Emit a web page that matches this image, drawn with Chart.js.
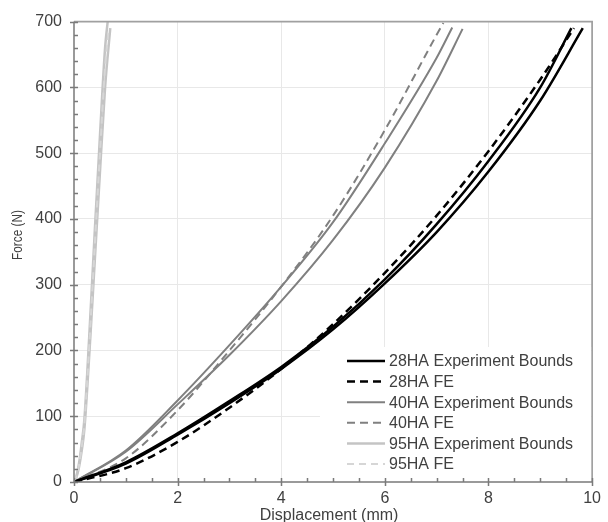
<!DOCTYPE html>
<html>
<head>
<meta charset="utf-8">
<script src="https://cdn.jsdelivr.net/npm/chart.js@4.4.1/dist/chart.umd.min.js"></script>
<style>
  html, body { margin: 0; padding: 0; background: #fff; }
</style>
</head>
<body>
<canvas id="chart" width="608" height="522"></canvas>
<script>
// axis ranges / tick steps
const xMax = 10, yMax = 700;
const xStep = 2, yStep = 100;

// 28HA - two experiment bounds + FE
const disp28A = [0, 1, 2, 3, 4, 5, 6, 7, 8, 9, 9.6];
const force28A = [0, 30, 74, 123, 175, 236, 308, 392, 488, 600, 690];
const disp28B = [0, 1, 2, 3, 4, 5, 6, 7, 8, 9, 9.82];
const force28B = [0, 28, 72, 120, 172, 232, 302, 380, 472, 580, 690];
const disp28FE = [0, 1, 2, 3, 4, 5, 6, 7, 8, 9, 9.65];
const force28FE = [0, 21, 61, 113, 172, 240, 318, 405, 503, 612, 690];

// 40HA
const disp40A = [0, 1, 2, 3, 4, 5, 6, 7, 7.3];
const force40A = [0, 48, 124, 208, 297, 395, 515, 645, 691];
const disp40B = [0, 1, 2, 3, 4, 5, 6, 7, 7.5];
const force40B = [0, 46, 118, 193, 275, 368, 478, 610, 689];
const disp40FE = [0, 1, 2, 3, 4, 5, 6, 7, 7.13];
const force40FE = [0, 36, 109, 200, 297, 405, 535, 680, 698];

// 95HA
const disp95A = [0, 0.05, 0.1, 0.15, 0.2, 0.3, 0.4, 0.5, 0.6, 0.65];
const force95A = [0, 10, 30, 60, 95, 230, 380, 525, 660, 700];
const disp95B = [0, 0.05, 0.1, 0.15, 0.2, 0.3, 0.4, 0.5, 0.6, 0.7];
const force95B = [0, 8, 24, 48, 80, 200, 335, 470, 600, 690];
const disp95FE = [0, 0.05, 0.1, 0.15, 0.2, 0.3, 0.4, 0.5, 0.6, 0.67];
const force95FE = [0, 9, 27, 54, 88, 215, 358, 498, 630, 690];

const FONT = "'Liberation Sans', Arial, sans-serif";
const TEXT = '#404040';

function pts(xs, ys) {
    return xs.map((v, i) => ({ x: v, y: ys[i] }));
}

function series(label, xs, ys, color, width, dash, order, inLegend) {
    return {
        label: label,
        data: pts(xs, ys),
        borderColor: color,
        borderWidth: width,
        borderDash: dash,
        showLine: true,
        pointRadius: 0,
        cubicInterpolationMode: 'monotone',
        order: order,
        inLegend: inLegend
    };
}

const datasets = [
    series('95HA Experiment Bounds', disp95A, force95A, '#c4c4c4', 2.5, [], 3, true),
    series('95HA Experiment Bounds', disp95B, force95B, '#c4c4c4', 2.5, [], 3, false),
    series('95HA FE', disp95FE, force95FE, '#d6d6d6', 2, [7, 5], 2, true),
    series('40HA Experiment Bounds', disp40A, force40A, '#808080', 2, [], 1, true),
    series('40HA Experiment Bounds', disp40B, force40B, '#808080', 2, [], 1, false),
    series('40HA FE', disp40FE, force40FE, '#808080', 2, [8, 5], 1, true),
    series('28HA Experiment Bounds', disp28A, force28A, '#000000', 2.5, [], 0, true),
    series('28HA Experiment Bounds', disp28B, force28B, '#000000', 2.5, [], 0, false),
    series('28HA FE', disp28FE, force28FE, '#000000', 2.5, [8, 5], 0, true)
];

// legend order as in the reference
const legendOrder = ['28HA Experiment Bounds', '28HA FE', '40HA Experiment Bounds',
    '40HA FE', '95HA Experiment Bounds', '95HA FE'];

// axes, minor ticks, titles and in-plot legend
const framePlugin = {
    id: 'frame',
    afterDraw(chart) {
        const ctx = chart.ctx;
        const a = chart.chartArea;
        const xs = chart.scales.x, ys = chart.scales.y;
        ctx.save();

        // top / right border
        ctx.strokeStyle = '#a0a0a0';
        ctx.lineWidth = 1.75;
        ctx.beginPath();
        ctx.moveTo(a.left, a.top);
        ctx.lineTo(a.right, a.top);
        ctx.lineTo(a.right, a.bottom);
        ctx.stroke();

        // legend box
        ctx.fillStyle = '#ffffff';
        ctx.fillRect(320, 347, a.right - 321, a.bottom - 348);

        // axis lines and ticks
        ctx.strokeStyle = '#7a7a7a';
        ctx.lineWidth = 1.5;
        ctx.beginPath();
        ctx.moveTo(a.left, a.top);
        ctx.lineTo(a.left, a.bottom);
        ctx.lineTo(a.right, a.bottom);
        for (let v = 0; v <= yMax; v += 20) {
            const py = Math.round(ys.getPixelForValue(v)) + 0.5;
            ctx.moveTo(a.left - (v % yStep === 0 ? 4 : 0), py);
            ctx.lineTo(a.left + 4, py);
        }
        for (let v = 0; v <= xMax; v += 0.5) {
            const px = Math.round(xs.getPixelForValue(v)) + 0.5;
            ctx.moveTo(px, a.bottom + (v % xStep === 0 ? 4 : 0));
            ctx.lineTo(px, a.bottom - 4);
        }
        ctx.stroke();

        // legend entries
        ctx.font = '16px ' + FONT;
        ctx.textBaseline = 'middle';
        ctx.textAlign = 'left';
        legendOrder.forEach((name, i) => {
            const ds = chart.data.datasets.find(d => d.label === name && d.inLegend);
            const ly = 361 + i * 20.6;
            ctx.strokeStyle = ds.borderColor;
            ctx.lineWidth = ds.borderWidth;
            ctx.setLineDash(ds.borderDash);
            ctx.beginPath();
            ctx.moveTo(347, ly);
            ctx.lineTo(385, ly);
            ctx.stroke();
            ctx.setLineDash([]);
            ctx.fillStyle = TEXT;
            ctx.fillText(name, 389, ly + 1);
        });

        // axis titles
        ctx.fillStyle = TEXT;
        ctx.textAlign = 'center';
        ctx.font = '16px ' + FONT;
        ctx.fillText('Displacement (mm)', (a.left + a.right) / 2 - 4, 516);
        ctx.translate(18, 235);
        ctx.rotate(-Math.PI / 2);
        ctx.font = '15px ' + FONT;
        ctx.fillText('Force (N)', 0, 0, 50);
        ctx.restore();
    }
};

function gridColor(max) {
    return c => (c.tick && (c.tick.value === 0 || c.tick.value === max)) ? 'rgba(0,0,0,0)' : '#e8e8e8';
}

new Chart(document.getElementById('chart'), {
    type: 'scatter',
    data: { datasets: datasets },
    options: {
        responsive: false,
        animation: false,
        devicePixelRatio: 1,
        layout: { padding: { top: 20, right: 11, left: 0, bottom: 0 } },
        plugins: {
            legend: { display: false },
            tooltip: { enabled: false }
        },
        scales: {
            x: {
                type: 'linear',
                min: 0,
                max: xMax,
                afterFit: s => { s.height = 40; },
                ticks: { stepSize: xStep, padding: 7, color: TEXT, font: { size: 16, family: FONT } },
                grid: { drawTicks: false, color: gridColor(xMax), lineWidth: 1 },
                border: { display: false }
            },
            y: {
                min: 0,
                max: yMax,
                afterFit: s => { s.width = 74; },
                ticks: { stepSize: yStep, padding: 12, color: TEXT, font: { size: 16, family: FONT } },
                grid: { drawTicks: false, color: gridColor(yMax), lineWidth: 1 },
                border: { display: false }
            }
        }
    },
    plugins: [framePlugin]
});
</script>
</body>
</html>
